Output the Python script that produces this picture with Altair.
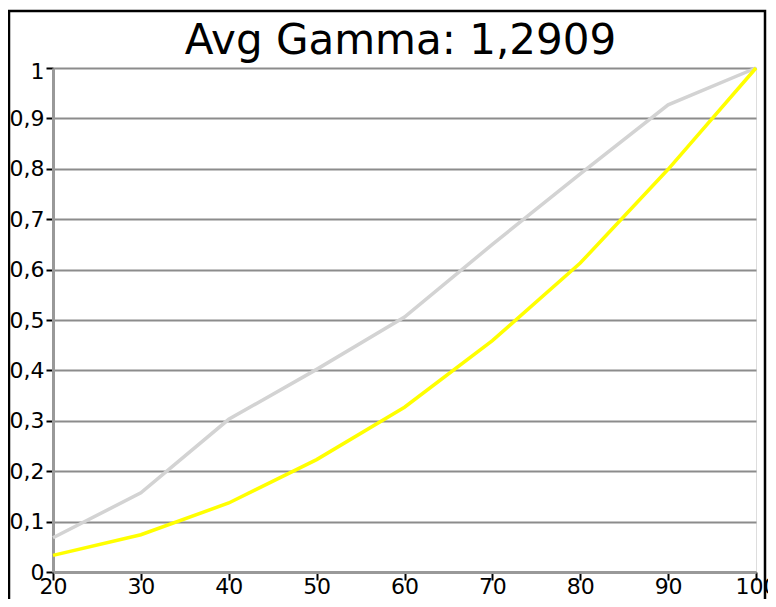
import altair as alt
import pandas as pd

brightness = [20, 30, 40, 50, 60, 70, 80, 90, 100]
measured = [0.068, 0.157, 0.303, 0.402, 0.506, 0.650, 0.790, 0.927, 1.0]
target = [0.033, 0.074, 0.137, 0.223, 0.327, 0.459, 0.613, 0.799, 1.0]
title_text = "Avg Gamma: 1,2909"

df = pd.DataFrame({
    "x": brightness * 2,
    "y": measured + target,
    "series": ["measured"] * len(brightness) + ["target"] * len(brightness),
})

W, H = 703, 504
FONT = "DejaVu Sans"

x_enc = alt.X("x:Q", scale=alt.Scale(domain=[20, 100], nice=False, zero=False),
              axis=alt.Axis(values=brightness, title=None, labelFlush=False,
                            labelFontSize=22, labelFont=FONT, labelColor="black",
                            tickColor="black", tickSize=8, tickWidth=2,
                            domainColor="#999999", domainWidth=3, grid=False,
                            labelPadding=-4, labelOverlap=False))
y_enc = alt.Y("y:Q", scale=alt.Scale(domain=[0, 1], nice=False),
              axis=alt.Axis(values=[i / 10 for i in range(11)], title=None,
                            labelExpr="replace(format(datum.value, '.1~f'), '.', ',')",
                            labelFontSize=22, labelFont=FONT, labelColor="black",
                            labelOffset={"condition": {"test": "datum.value == 1", "value": 3}, "value": 0},
                            tickColor="black", tickSize=7, tickWidth=2,
                            domainColor="#999999", domainWidth=3,
                            grid=True, gridColor="#8c8c8c", gridWidth=2,
                            labelPadding=2, labelOverlap=False))

lines = alt.Chart(df).mark_line(strokeWidth=3.5).encode(
    x=x_enc,
    y=y_enc,
    color=alt.Color("series:N", scale=alt.Scale(domain=["measured", "target"],
                                                range=["#d3d3d3", "#ffff00"]),
                    legend=None),
    order=alt.Order("x:Q"),
)

frame = alt.Chart(alt.Data(values=[{"a": 1}])).mark_rect(
    fill=None, fillOpacity=0, stroke="black", strokeWidth=2.5
).encode(
    x=alt.value(-44), x2=alt.value(712), y=alt.value(-57), y2=alt.value(560)
)

title = alt.Chart(alt.Data(values=[{"t": title_text}])).mark_text(
    font=FONT, fontSize=42, color="black", align="center", baseline="alphabetic"
).encode(
    text="t:N", x=alt.value(W / 2 - 4), y=alt.value(-14)
)

chart = alt.layer(lines, frame, title).properties(
    width=W, height=H,
    autosize=alt.AutoSizeParams(type="none"),
    padding={"left": 45, "top": 60, "right": 12, "bottom": 27},
).configure_view(stroke="#999999", strokeWidth=3).configure(background="white")

chart.save("out.html", embed_options={"renderer": "svg", "actions": False})
